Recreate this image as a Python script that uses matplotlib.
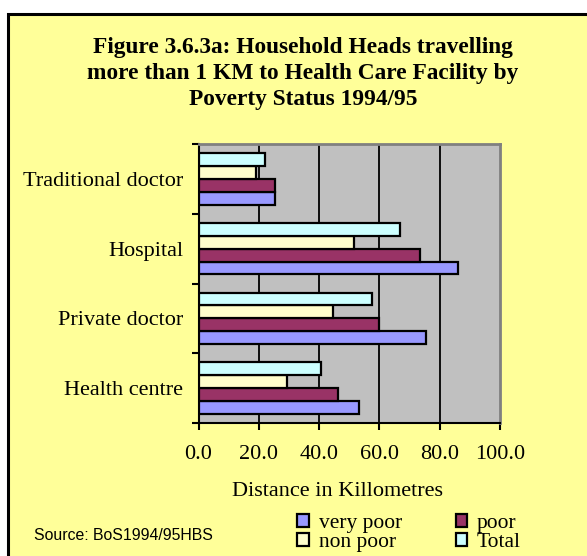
import matplotlib.pyplot as plt
from matplotlib.patches import Rectangle
import numpy as np

categories = ["Health centre", "Private doctor", "Hospital", "Traditional doctor"]
series_names = ["very poor", "poor", "non poor", "Total"]
very_poor = [53.2, 75.3, 86.0, 25.4]
poor = [46.3, 59.8, 73.6, 25.4]
non_poor = [29.4, 44.7, 51.6, 19.2]
total = [40.5, 57.6, 66.8, 22.0]
x_ticks = [0, 20, 40, 60, 80, 100]

colors = ["#9999FF", "#993366", "#FFFFCC", "#CCFFFF"]
W, H = 587, 556

plt.rcParams['font.family'] = ['Liberation Serif', 'DejaVu Serif']

fig = plt.figure(figsize=(W / 100, H / 100), dpi=100)
fig.patch.set_facecolor("white")

# yellow chart area with black frame (right/bottom edges run off the image)
frame = Rectangle((8 / W, -0.05), 1.2, 1 - 14 / H + 0.05, transform=fig.transFigure,
                  facecolor="#FFFF99", edgecolor="black", linewidth=2.2, zorder=-5)
fig.patches.append(frame)

ax = fig.add_axes([198.5 / W, 1 - 423 / H, 301.5 / W, 279 / H])
ax.set_zorder(2)
ax.set_facecolor("#C0C0C0")

y = np.arange(len(categories))
bh = 0.185
offsets = [-1.5 * bh, -0.5 * bh, 0.5 * bh, 1.5 * bh]
for vals, off, col, name in zip([very_poor, poor, non_poor, total], offsets, colors, series_names):
    ax.barh(y + off, vals, height=bh, color=col, edgecolor="black", linewidth=1.6,
            label=name, zorder=3)

ax.set_xlim(0, 100)
ax.set_ylim(-0.5, 3.5)
ax.set_xticks(x_ticks)
ax.set_xticklabels([f"{v:.1f}" for v in x_ticks], fontsize=16)
for v in x_ticks[1:-1]:
    ax.axvline(v, color="black", linewidth=1.3, zorder=1)

ax.set_yticks(np.arange(-0.5, 4, 1))
ax.set_yticklabels([])
ax.set_yticks(y, minor=True)
ax.set_yticklabels(categories, minor=True, fontsize=16)
ax.tick_params(axis="y", which="minor", length=0, pad=11)
ax.tick_params(axis="y", which="major", length=5, width=1.5, direction="out")
ax.tick_params(axis="x", length=5, width=1.5, direction="out", pad=11)

for side in ["left", "bottom"]:
    ax.spines[side].set_linewidth(1.5)
    ax.spines[side].set_color("black")
for side in ["top", "right"]:
    ax.spines[side].set_linewidth(2)
    ax.spines[side].set_color("#808080")

fig.text(303 / W, 1 - 37 / H, "Figure 3.6.3a: Household Heads travelling\n"
         "more than 1 KM to Health Care Facility by\nPoverty Status 1994/95",
         ha="center", va="top", fontsize=16.8, fontweight="bold", linespacing=1.3)
fig.text(337 / W, 1 - 492 / H, "Distance in Killometres", ha="center", va="center",
         fontsize=16)
fig.text(34 / W, 1 - 535 / H, "Source: BoS1994/95HBS", ha="left", va="center",
         fontsize=11.4, family=["Liberation Sans", "DejaVu Sans"])

handles, labels = ax.get_legend_handles_labels()
order = [0, 2, 1, 3]
leg = fig.legend([handles[i] for i in order], [labels[i] for i in order],
                 ncol=2, loc="center left", bbox_to_anchor=(297 / W, 1 - 533 / H),
                 frameon=False, fontsize=15.5, handlelength=0.55, handleheight=0.55,
                 handletextpad=0.45, columnspacing=2.5, labelspacing=0.0,
                 borderpad=0, borderaxespad=0)

fig.savefig("out.png", dpi=100, facecolor=fig.get_facecolor())
